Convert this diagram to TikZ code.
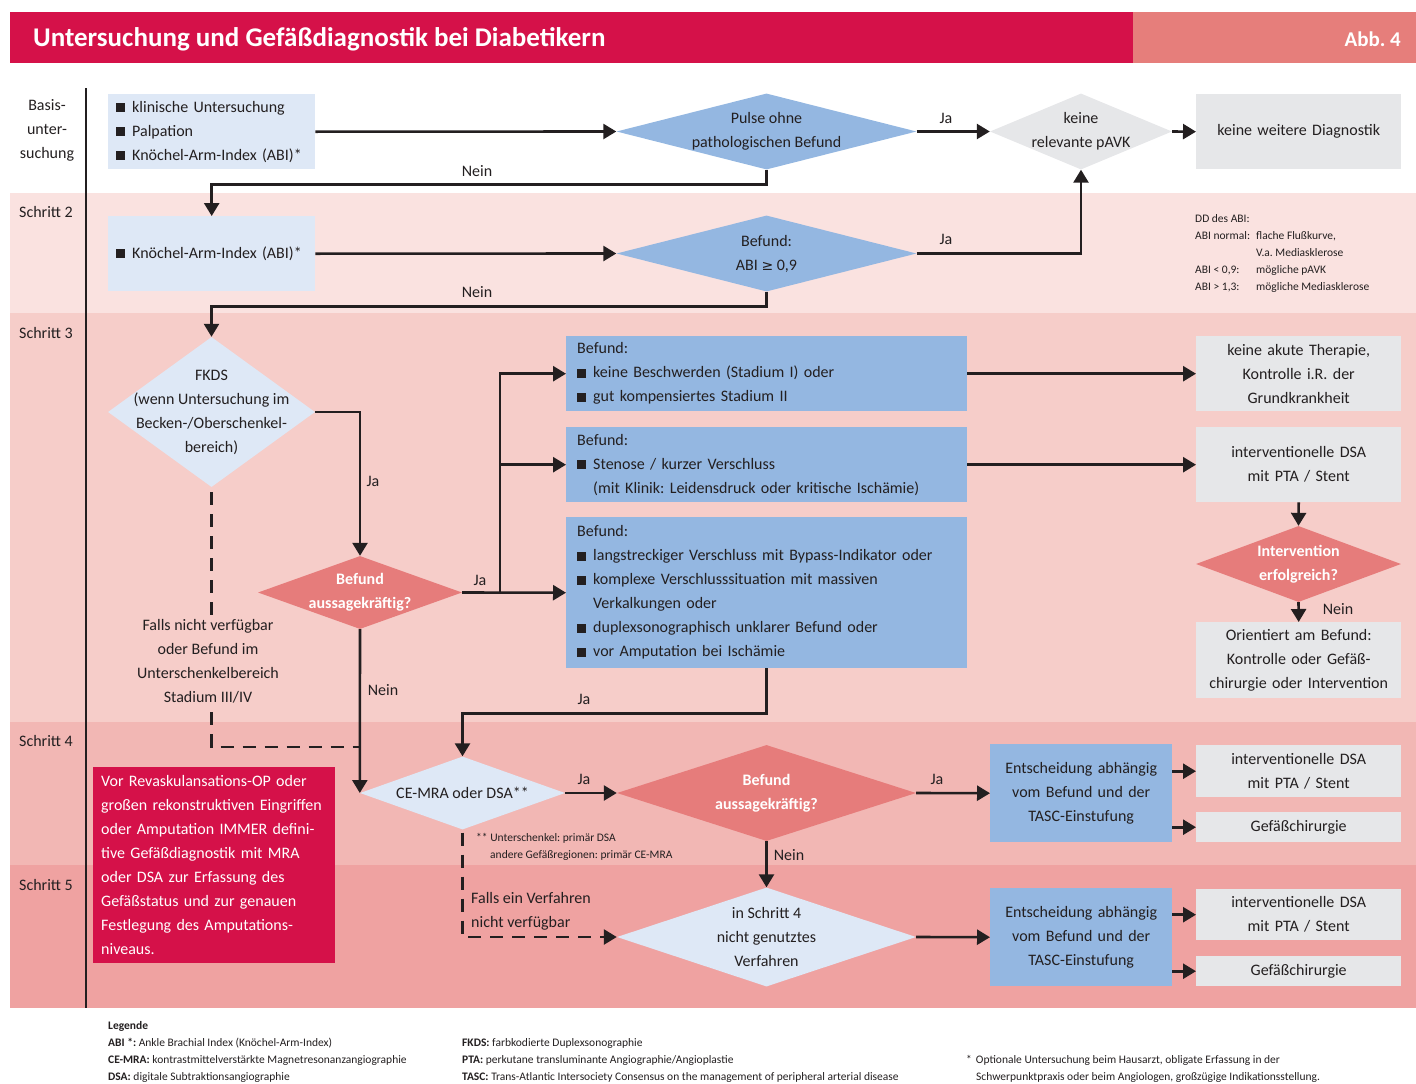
\documentclass[tikz,border=0pt]{standalone}
\usepackage{fontspec}
\setmainfont{Carlito}
\newfontfamily\symf{DejaVu Sans}
\usetikzlibrary{arrows.meta,shapes.geometric}
\definecolor{crim}{HTML}{D51149}
\definecolor{hsal}{HTML}{E67E7B}
\definecolor{lblue}{HTML}{DEE8F6}
\definecolor{mblue}{HTML}{94B7E1}
\definecolor{gbox}{HTML}{E6E7E9}
\definecolor{dsal}{HTML}{E67C7B}
\definecolor{bandB}{HTML}{FAE2E0}
\definecolor{bandC}{HTML}{F6CDC9}
\definecolor{bandD}{HTML}{F2B7B4}
\definecolor{bandE}{HTML}{EFA2A1}
\definecolor{ink}{HTML}{231F20}
\newcommand\mainsz{\fontsize{16}{24}\selectfont}
\newcommand\smallsz{\fontsize{11.5}{17}\selectfont}
\newcommand\mybul{\rule{9pt}{9pt}\hspace{7pt}}
\newcommand\myind{\hspace*{16pt}}
\frenchspacing
\begin{document}
\frenchspacing
\begin{tikzpicture}[x=1pt,y=-1pt,
  txt/.style={font=\mainsz, text=ink, inner sep=0pt},
  wtxt/.style={font=\mainsz\bfseries, text=white, inner sep=0pt, align=center},
  small/.style={font=\smallsz, text=ink, inner sep=0pt, align=left},
  bx/.style={anchor=north west, inner ysep=0pt, font=\mainsz, text=ink},
  dia/.style={shape=diamond, inner sep=0pt, draw=none},
  ln/.style={line width=2.6pt, draw=ink},
  arr/.style={line width=2.6pt, draw=ink, -{Triangle[length=13pt,width=15pt]}},
  dsh/.style={line width=2.6pt, draw=ink, dash pattern=on 13pt off 9pt},
  lab/.style={font=\mainsz, text=ink, inner sep=0pt}
]
\useasboundingbox (0,0) rectangle (1416,1084);
% header
\fill[crim] (10,12) rectangle (1133,63);
\fill[hsal] (1133,12) rectangle (1416,63);
\node[anchor=west, font=\fontsize{27}{30}\selectfont\bfseries, text=white, inner sep=0pt] (title) at (33,39) {Untersuchung und Gefäßdiagnostik bei Diabetikern};
\node[anchor=east, font=\fontsize{21}{24}\selectfont\bfseries, text=white, inner sep=0pt] (abb) at (1401,39) {Abb. 4};
% bands
\fill[bandB] (10,193) rectangle (1416,313);
\fill[bandC] (10,313) rectangle (1416,722);
\fill[bandD] (10,722) rectangle (1416,865);
\fill[bandE] (10,865) rectangle (1416,1008);
\draw[ink, line width=1.2pt] (86,88) -- (86,1008);
% row labels
\node[txt, align=center] (lb1) at (47,130) {Basis-\\unter-\\suchung};
\node[txt, anchor=west] (lb2) at (19,212) {Schritt 2};
\node[txt, anchor=west] (lb3) at (19,333) {Schritt 3};
\node[txt, anchor=west] (lb4) at (19,741) {Schritt 4};
\node[txt, anchor=west] (lb5) at (19,885) {Schritt 5};
% Basis
\node[bx, fill=lblue, minimum height=75pt, text width=191pt, inner xsep=8pt, align=left] (b1) at (108,94) {\mybul klinische Untersuchung\\\mybul Palpation\\\mybul Knöchel-Arm-Index (ABI)*};
\node[dia, fill=mblue, minimum width=300pt, minimum height=76pt] (d1) at (766.5,131.5) {};
\node[txt, align=center] (d1t) at (d1) {Pulse ohne\\pathologischen Befund};
\node[dia, fill=gbox, minimum width=182pt, minimum height=76pt] (d2) at (1081,131.5) {};
\node[txt, align=center] (d2t) at (d2) {keine\\relevante pAVK};
\node[bx, fill=gbox, minimum height=75pt, text width=205pt, inner xsep=0pt, align=center] (gk) at (1196,94) {keine weitere Diagnostik};
% Schritt 2
\node[bx, fill=lblue, minimum height=75pt, text width=191pt, inner xsep=8pt, align=left] (b2) at (108,216) {\mybul Knöchel-Arm-Index (ABI)*};
\node[dia, fill=mblue, minimum width=300pt, minimum height=76pt] (d3) at (766.5,253.5) {};
\node[txt, align=center] (d3t) at (d3) {Befund:\\ABI {\symf\fontsize{14}{24}\selectfont ≥} 0,9};
\node[small, anchor=north west] (dd) at (1195,214) {DD des ABI:\\\makebox[61pt][l]{ABI normal:}flache Flußkurve,\\\makebox[61pt][l]{}V.a. Mediasklerose\\\makebox[61pt][l]{ABI < 0,9:}mögliche pAVK\\\makebox[61pt][l]{ABI > 1,3:}mögliche Mediasklerose};
% Schritt 3
\node[dia, fill=lblue, minimum width=207pt, minimum height=150pt] (d4) at (211.5,412) {};
\node[txt, align=center] (d4t) at (d4) {FKDS\\(wenn Untersuchung im\\Becken-/Oberschenkel-\\bereich)};
\node[dia, fill=dsal, minimum width=204pt, minimum height=73pt] (d5) at (360,592.5) {};
\node[wtxt] (d5t) at (d5) {Befund\\aussagekräftig?};
\node[bx, fill=mblue, minimum height=75pt, text width=379pt, inner xsep=11pt, align=left] (bA) at (566,336) {Befund:\\\mybul keine Beschwerden (Stadium I) oder\\\mybul gut kompensiertes Stadium II};
\node[bx, fill=mblue, minimum height=75pt, text width=379pt, inner xsep=11pt, align=left] (bB) at (566,427) {Befund:\\\mybul Stenose / kurzer Verschluss\\\myind(mit Klinik: Leidensdruck oder kritische Ischämie)};
\node[bx, fill=mblue, minimum height=151pt, text width=379pt, inner xsep=11pt, align=left] (bC) at (566,517) {Befund:\\\mybul langstreckiger Verschluss mit Bypass-Indikator oder\\\mybul komplexe Verschlusssituation mit massiven\\\myind Verkalkungen oder\\\mybul duplexsonographisch unklarer Befund oder\\\mybul vor Amputation bei Ischämie};
\node[bx, fill=gbox, minimum height=75pt, text width=205pt, inner xsep=0pt, align=center] (gA) at (1196,336) {keine akute Therapie,\\Kontrolle i.R. der\\Grundkrankheit};
\node[bx, fill=gbox, minimum height=75pt, text width=205pt, inner xsep=0pt, align=center] (gB) at (1196,427) {interventionelle DSA\\mit PTA / Stent};
\node[dia, fill=dsal, minimum width=205pt, minimum height=76pt] (d6) at (1298.5,564) {};
\node[wtxt] (d6t) at (d6) {Intervention\\erfolgreich?};
\node[bx, fill=gbox, minimum height=76pt, text width=205pt, inner xsep=0pt, align=center] (gC) at (1196,622) {Orientiert am Befund:\\Kontrolle oder Gefäß-\\chirurgie oder Intervention};
% Schritt 4
\node[dia, fill=lblue, minimum width=205pt, minimum height=73pt] (d7) at (462.5,793) {};
\node[txt] (d7t) at (d7) {CE-MRA oder DSA**};
\node[dia, fill=dsal, minimum width=299pt, minimum height=96pt] (d8) at (766.5,793) {};
\node[wtxt] (d8t) at (d8) {Befund\\aussagekräftig?};
\node[bx, fill=mblue, minimum height=98pt, text width=182pt, inner xsep=0pt, align=center] (eA) at (990,744) {Entscheidung abhängig\\vom Befund und der\\TASC-Einstufung};
\node[bx, fill=gbox, minimum height=52pt, text width=205pt, inner xsep=0pt, align=center] (g4a) at (1196,745) {interventionelle DSA\\mit PTA / Stent};
\node[bx, fill=gbox, minimum height=30pt, text width=205pt, inner xsep=0pt, align=center] (g4b) at (1196,812) {Gefäßchirurgie};
\node[small, anchor=north west] (fn) at (476,833) {** Unterschenkel: primär DSA\\\hspace*{14pt}andere Gefäßregionen: primär CE-MRA};
% Schritt 5
\node[dia, fill=lblue, minimum width=299pt, minimum height=99pt] (d9) at (766.5,937) {};
\node[txt, align=center] (d9t) at (d9) {in Schritt 4\\nicht genutztes\\Verfahren};
\node[bx, fill=mblue, minimum height=98pt, text width=182pt, inner xsep=0pt, align=center] (eB) at (990,888) {Entscheidung abhängig\\vom Befund und der\\TASC-Einstufung};
\node[bx, fill=gbox, minimum height=51pt, text width=205pt, inner xsep=0pt, align=center] (g5a) at (1196,889) {interventionelle DSA\\mit PTA / Stent};
\node[bx, fill=gbox, minimum height=30pt, text width=205pt, inner xsep=0pt, align=center] (g5b) at (1196,956) {Gefäßchirurgie};
% red box
\node[bx, fill=crim, text=white, minimum height=196pt, text width=226pt, inner xsep=8pt, align=left] (rb) at (93,767) {Vor Revaskulansations-OP oder\\großen rekonstruktiven Eingriffen\\oder Amputation IMMER defini-\\tive Gefäßdiagnostik mit MRA\\oder DSA zur Erfassung des\\Gefäßstatus und zur genauen\\Festlegung des Amputations-\\niveaus.};
% connectors
\draw[arr] (b1.east) -- (d1.west);
\draw[arr] (d1.east) -- (d2.west);
\node[lab] (ja1) at (946,118) {Ja};
\draw[arr] (d2.east) -- (gk.west);
\draw[arr] (d1.south) -- ++(0,15) -| (b2.north);
\node[lab] (ne1) at (477,171) {Nein};
\draw[arr] (b2.east) -- (d3.west);
\draw[arr] (d3.east) -| (d2.south);
\node[lab] (ja2) at (946,239) {Ja};
\draw[arr] (d3.south) -- ++(0,15) -| (d4.north);
\node[lab] (ne2) at (477,292) {Nein};
\draw[arr] (d4.east) -| (d5.north);
\node[lab] (ja3) at (373,481) {Ja};
\coordinate (jn) at (500,592.5);
\draw[arr] (d5.east) -- (bC.west);
\draw[arr] (jn) |- (bA.west);
\draw[arr] (jn|-bB.west) -- (bB.west);
\node[lab] (ja4) at (480,580) {Ja};
\draw[arr] (bA.east) -- (gA.west);
\draw[arr] (bB.east) -- (gB.west);
\draw[arr] (gB.south) -- (d6.north);
\draw[arr] (d6.south) -- (gC.north);
\node[lab] (ne3) at (1338,609) {Nein};
\draw[arr] (bC.south) -- ++(0,45) -| (d7.north);
\node[lab] (ja5) at (584,699) {Ja};
\draw[arr] (d5.south) -- (d7.west);
\node[lab] (ne4) at (383,690) {Nein};
\coordinate (mj) at (360,747);
\draw[dsh] ([yshift=-5pt]d4.south) |- (mj);
\node[txt, align=center, fill=bandC, inner ysep=4pt] (fa1) at (208,661) {Falls nicht verfügbar\\oder Befund im\\Unterschenkelbereich\\Stadium III/IV};
\draw[arr] (d7.east) -- (d8.west);
\node[lab] (ja6) at (584,779) {Ja};
\draw[arr] (d8.east) -- (eA.west);
\node[lab] (ja7) at (937,779) {Ja};
\draw[arr] (eA.east|-g4a.west) -- (g4a.west);
\draw[arr] (eA.east|-g4b.west) -- (g4b.west);
\draw[arr] (d8.south) -- (d9.north);
\node[lab] (ne5) at (789,855) {Nein};
\draw[dsh, -{Triangle[length=13pt,width=15pt]}] ([yshift=-3pt]d7.south) |- (d9.west);
\node[txt, anchor=west, align=left] (fa2) at (471,911) {Falls ein Verfahren\\nicht verfügbar};
\draw[arr] (d9.east) -- (eB.west);
\draw[arr] (eB.east|-g5a.west) -- (g5a.west);
\draw[arr] (eB.east|-g5b.west) -- (g5b.west);
% legend
\node[small, anchor=north west] (leg1) at (108,1021) {\textbf{Legende}\\\textbf{ABI *:} Ankle Brachial Index (Knöchel-Arm-Index)\\\textbf{CE-MRA:} kontrastmittelverstärkte Magnetresonanzangiographie\\\textbf{DSA:} digitale Subtraktionsangiographie};
\node[small, anchor=north west] (leg2) at (462,1038) {\textbf{FKDS:} farbkodierte Duplexsonographie\\\textbf{PTA:} perkutane transluminante Angiographie/Angioplastie\\\textbf{TASC:} Trans-Atlantic Intersociety Consensus on the management of peripheral arterial disease};
\node[small, anchor=north west] (leg3) at (966,1055) {*\hspace{4pt}Optionale Untersuchung beim Hausarzt, obligate Erfassung in der\\\hspace*{10pt}Schwerpunktpraxis oder beim Angiologen, großzügige Indikationsstellung.};
\end{tikzpicture}
\end{document}
